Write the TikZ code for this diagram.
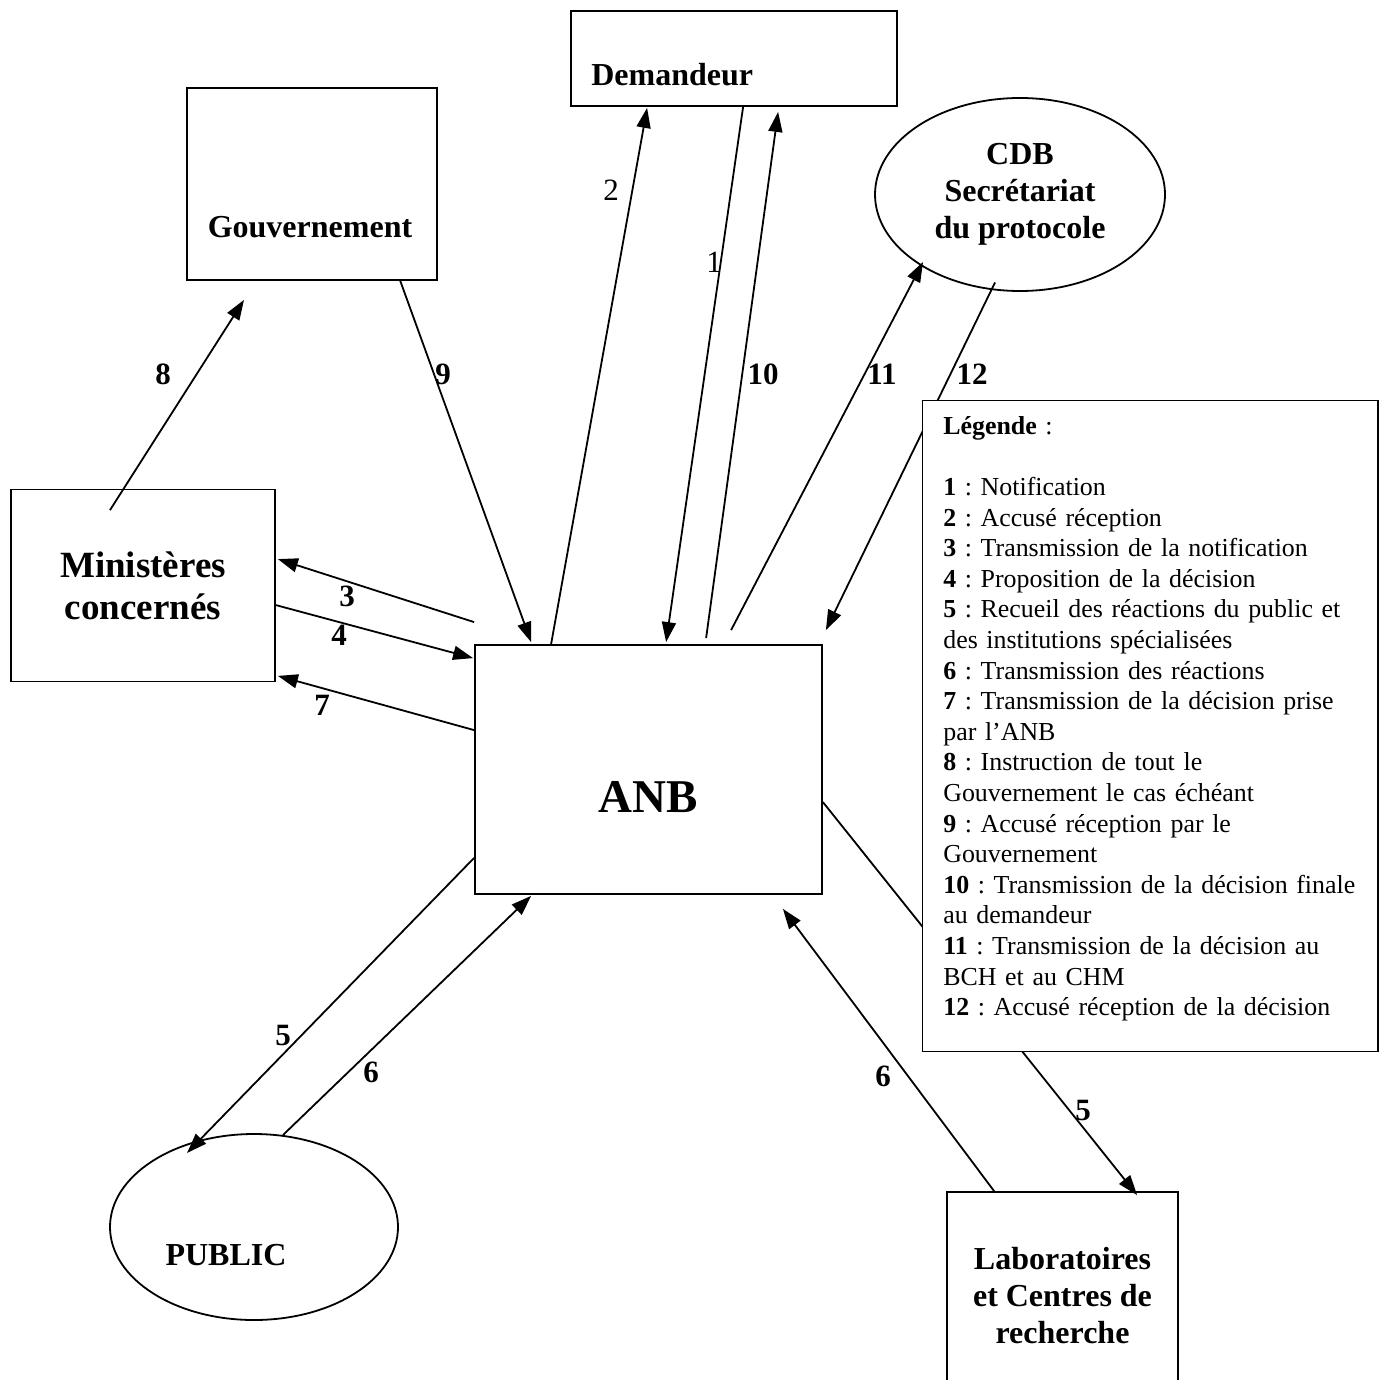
\documentclass[tikz,border=0pt]{standalone}
\usepackage{fontspec}
\setmainfont{Liberation Serif}
\usetikzlibrary{arrows.meta,calc,shapes.geometric}
\frenchspacing
\begin{document}
\begin{tikzpicture}[x=1pt,y=-1pt,
  box/.style={draw, line width=1.8pt, rectangle, inner sep=0pt},
  oval/.style={draw, line width=1.8pt, ellipse, inner sep=0pt},
  arr/.style={line width=1.8pt, -{Triangle[length=20pt,width=14pt]}},
  num/.style={font=\fontsize{31}{36}\selectfont\bfseries, inner sep=0pt},
  numr/.style={font=\fontsize{31}{36}\selectfont, inner sep=0pt},
  bigt/.style={font=\fontsize{32}{37}\selectfont\bfseries},
]
\useasboundingbox (0,0) rectangle (1379,1380);

% boxes
\node[box, minimum width=326pt, minimum height=95pt,
  label={[bigt, anchor=base west, inner sep=0pt, xshift=21pt, yshift=21.5pt]south west:Demandeur}]
  (dem) at (734,58.5) {};
\node[box, minimum width=250pt, minimum height=192pt,
  label={[bigt, anchor=base, inner sep=0pt, xshift=-2pt, yshift=43pt]south:Gouvernement}]
  (gov) at (312,184) {};
\node[oval, minimum width=290pt, minimum height=193pt, bigt, align=center]
  (cdb) at (1020,194.5) {CDB\\Secrétariat\\du protocole};
\node[box, minimum width=264pt, minimum height=192pt, align=center,
  font=\fontsize{37}{42}\selectfont\bfseries]
  (min) at (143,585.5) {Ministères\\concernés};
\node[box, minimum width=347pt, minimum height=249pt,
  label={[font=\fontsize{47}{52}\selectfont\bfseries, anchor=base, inner sep=0pt, yshift=82pt]south:ANB}]
  (anb) at (648.5,769.5) {};
\node[oval, minimum width=288pt, minimum height=186pt,
  label={[bigt, anchor=base, inner sep=0pt, xshift=-28pt, yshift=55pt]south:PUBLIC}]
  (pub) at (254,1227) {};
\node[box, minimum width=231pt, minimum height=208pt, bigt, align=center]
  (lab) at (1062.5,1296) {Laboratoires\\et Centres de\\recherche};

% connectors
\draw[arr] ($(min.north)+(-33,21.5)$) -- ($(gov.south)+(-68,19)$);
\draw[arr] ($(gov.south east)+(-38,-1)$) -- ($(anb.north west)+(57,-2)$);
\draw[arr] ($(anb.north west)+(77,0)$) -- ($(dem.south west)+(77,1)$);
\draw[arr] ($(dem.south west)+(173,0)$) -- ($(anb.north west)+(192,-2)$);
\draw[arr] ($(anb.north west)+(232,-6)$) -- ($(dem.south west)+(208,5)$);
\draw[arr] ($(anb.north west)+(257,-14)$) -- ($(cdb.center)+(-97,67.5)$);
\draw[arr] ($(cdb.center)+(-25,88)$) -- ($(anb.north east)+(3,-14)$);
\draw[arr] ($(anb.north west)+(0,-22)$) -- ($(min.north east)+(2,70.5)$);
\draw[arr] ($(min.north east)+(0,116.5)$) -- ($(anb.north west)+(-1,14)$);
\draw[arr] ($(anb.north west)+(0,86)$) -- ($(min.south east)+(2,-6.5)$);
\draw[arr] ($(anb.south west)+(0,-37)$) -- ($(pub.center)+(-67,-74)$);
\draw[arr] ($(pub.center)+(29,-92)$) -- ($(anb.south west)+(57,1)$);
\draw[arr] ($(anb.north east)+(0,158)$) -- ($(lab.north west)+(191,4)$);
\draw[arr] ($(lab.north west)+(48,0)$) -- ($(anb.south east)+(-40,14)$);

% connector labels
\node[num] (l8) at (163,374) {8};
\node[num] (l9) at (443,374) {9};
\node[numr] (l2) at (611,190) {2};
\node[numr] (l1) at (714,262) {1};
\node[num] (l10) at (763,374) {10};
\node[num] (l11) at (882,374) {11};
\node[num] (l12) at (972,374) {12};
\node[num] (l3) at (347,596) {3};
\node[num] (l4) at (339,635) {4};
\node[num] (l7) at (322,705) {7};
\node[num] (l5a) at (283,1035) {5};
\node[num] (l6a) at (371,1072) {6};
\node[num] (l6b) at (883,1076) {6};
\node[num] (l5b) at (1083,1110) {5};

% legend (drawn last, opaque)
\node[box, fill=white, minimum width=455.5pt, minimum height=651pt,
  label={[anchor=north west, inner sep=0pt, xshift=21.5pt, yshift=-13.5pt,
    text width=432pt, align=left, font=\fontsize{25.9}{30.6}\selectfont]north west:{%
\rule{0pt}{21pt}\textbf{Légende} :\\[30.6pt]
\textbf{1} : Notification\\
\textbf{2} : Accusé réception\\
\textbf{3} : Transmission de la notification\\
\textbf{4} : Proposition de la décision\\
\textbf{5} : Recueil des réactions du public et\\
des institutions spécialisées\\
\textbf{6} : Transmission des réactions\\
\textbf{7} : Transmission de la décision prise\\
par l’ANB\\
\textbf{8} : Instruction de tout le\\
Gouvernement le cas échéant\\
\textbf{9} : Accusé réception par le\\
Gouvernement\\
\textbf{10} : Transmission de la décision finale\\
au demandeur\\
\textbf{11} : Transmission de la décision au\\
BCH et au CHM\\
\textbf{12} : Accusé réception de la décision}}]
  (leg) at (1150.25,726) {};
\end{tikzpicture}
\end{document}
